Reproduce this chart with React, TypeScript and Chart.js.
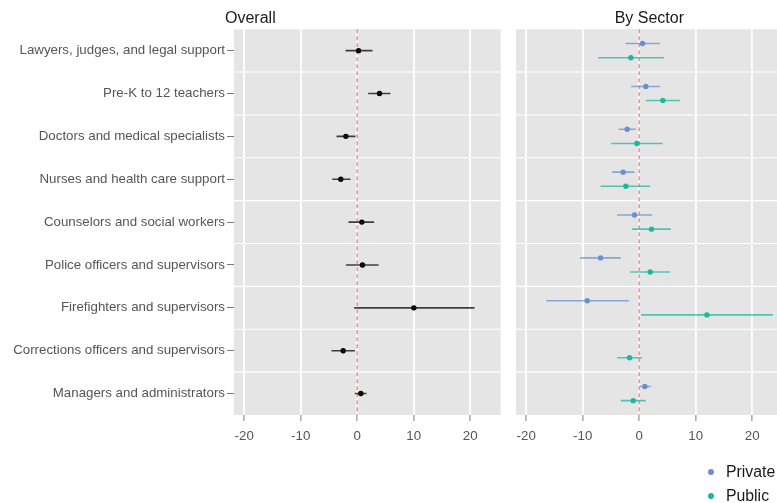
import React, { useEffect, useRef } from "react";
import { Chart, registerables } from "chart.js";

Chart.register(...registerables);

const categories = [
  "Lawyers, judges, and legal support",
  "Pre-K to 12 teachers",
  "Doctors and medical specialists",
  "Nurses and health care support",
  "Counselors and social workers",
  "Police officers and supervisors",
  "Firefighters and supervisors",
  "Corrections officers and supervisors",
  "Managers and administrators",
];

const overallEst = [0.24, 3.95, -2.0, -2.9, 0.83, 0.94, 10.03, -2.48, 0.65];
const overallLo = [-2.07, 1.95, -3.66, -4.42, -1.53, -2.0, -0.53, -4.54, -0.41];
const overallHi = [2.71, 5.9, -0.3, -1.18, 3.0, 3.78, 20.77, -0.41, 1.65];

const privateEst = [0.59, 1.18, -2.12, -2.83, -0.83, -6.84, -9.2, null, 1.0];
const privateLo = [-2.42, -1.42, -3.66, -4.78, -3.9, -10.44, -16.46, null, 0.06];
const privateHi = [3.66, 3.66, -0.59, -0.83, 2.3, -3.25, -1.83, null, 2.07];

const publicEst = [-1.47, 4.19, -0.41, -2.36, 2.18, 1.95, 11.98, -1.71, -1.06];
const publicLo = [-7.26, 1.18, -4.96, -6.84, -1.24, -1.6, 0.35, -3.9, -3.25];
const publicHi = [4.37, 7.2, 4.13, 1.95, 5.6, 5.43, 23.66, 0.47, 1.18];

const xTicks = [-20, -10, 0, 10, 20];
const seriesNames = ["Private", "Public"];
const seriesColors = ["#6b8fd2", "#1db8a0"];
const seriesBarColors = ["rgba(107,143,210,0.75)", "rgba(29,184,160,0.75)"];
const sectorOffset = [-0.165, 0.165];

const X_MIN = -21.8;
const X_MAX = 25.4;
const FONT = "'Liberation Sans', Arial, sans-serif";
const TEXT_COLOR = "#555555";

function errorBarData(est: (number | null)[], lo: (number | null)[], hi: (number | null)[], off: number) {
  const out: { x: number; y: number }[] = [];
  est.forEach((v, i) => {
    if (v === null || lo[i] === null || hi[i] === null) return;
    out.push({ x: lo[i] as number, y: i + 1 + off });
    out.push({ x: hi[i] as number, y: i + 1 + off });
    out.push({ x: NaN, y: NaN });
  });
  return out;
}

function pointData(est: (number | null)[], off: number) {
  const out: { x: number; y: number }[] = [];
  est.forEach((v, i) => {
    if (v === null) return;
    out.push({ x: v, y: i + 1 + off });
  });
  return out;
}

const panelPlugin = {
  id: "panelBg",
  beforeDraw(chart: any) {
    const { ctx, chartArea: a, scales } = chart;
    ctx.save();
    ctx.fillStyle = "#e5e5e5";
    ctx.fillRect(a.left, a.top, a.right - a.left, a.bottom - a.top);
    ctx.strokeStyle = "#ffffff";
    ctx.lineWidth = 1.1;
    for (let k = 1; k < categories.length; k++) {
      const y = scales.y.getPixelForValue(k + 0.5);
      ctx.beginPath();
      ctx.moveTo(a.left, y);
      ctx.lineTo(a.right, y);
      ctx.stroke();
    }
    ctx.restore();
  },
  beforeDatasetsDraw(chart: any) {
    const { ctx, chartArea: a, scales } = chart;
    const x0 = scales.x.getPixelForValue(0);
    ctx.save();
    ctx.strokeStyle = "rgba(232,110,115,0.9)";
    ctx.lineWidth = 1.3;
    ctx.setLineDash([4, 3]);
    ctx.beginPath();
    ctx.moveTo(x0, a.top);
    ctx.lineTo(x0, a.bottom);
    ctx.stroke();
    ctx.restore();
  },
};

function baseOptions(title: string, showY: boolean, padLeft: number): any {
  return {
    responsive: false,
    animation: false,
    maintainAspectRatio: false,
    layout: { padding: { left: padLeft, right: 4.3, top: 0, bottom: 0 } },
    plugins: {
      legend: { display: false },
      tooltip: { enabled: false },
      title: {
        display: true,
        text: title,
        color: "#1a1a1a",
        font: { family: FONT, size: 16, weight: "normal" },
        padding: { top: 9, bottom: 1 },
      },
    },
    scales: {
      x: {
        type: "linear",
        min: X_MIN,
        max: X_MAX,
        afterBuildTicks: (s: any) => {
          s.ticks = xTicks.map((v) => ({ value: v }));
        },
        afterFit: (s: any) => {
          s.height = 88;
        },
        ticks: {
          color: TEXT_COLOR,
          font: { family: FONT, size: 13.3 },
          padding: 7,
          maxRotation: 0,
          autoSkip: false,
        },
        grid: {
          color: "#ffffff",
          lineWidth: 1.8,
          tickColor: "#7a7a7a",
          tickLength: 6,
          tickWidth: 1,
        },
        border: { display: false },
      },
      y: {
        type: "linear",
        reverse: true,
        min: 0.5,
        max: categories.length + 0.5,
        display: true,
        afterBuildTicks: (s: any) => {
          s.ticks = categories.map((_, i) => ({ value: i + 1 }));
        },
        afterFit: (s: any) => {
          s.width = showY ? 234 : 0;
        },
        ticks: {
          display: showY,
          color: TEXT_COLOR,
          font: { family: FONT, size: 13.3 },
          padding: 2,
          autoSkip: false,
          callback: (v: any) => categories[Math.round(v) - 1],
        },
        grid: {
          drawOnChartArea: false,
          drawTicks: showY,
          tickColor: "#7a7a7a",
          tickLength: 7,
          tickWidth: 1,
        },
        border: { display: false },
      },
    },
  };
}

function OverallChart() {
  const ref = useRef<HTMLCanvasElement | null>(null);
  useEffect(() => {
    if (!ref.current) return;
    const chart = new Chart(ref.current, {
      type: "line",
      data: {
        datasets: [
          {
            label: "Overall CI",
            data: errorBarData(overallEst, overallLo, overallHi, 0),
            borderColor: "rgba(20,20,20,0.8)",
            borderWidth: 1.6,
            pointRadius: 0,
            spanGaps: false,
          },
          {
            label: "Overall",
            data: pointData(overallEst, 0),
            showLine: false,
            pointRadius: 2.7,
            pointBackgroundColor: "#000000",
            pointBorderWidth: 0,
            borderColor: "#000000",
          },
        ],
      } as any,
      options: baseOptions("Overall", true, 0),
      plugins: [panelPlugin],
    });
    return () => chart.destroy();
  }, []);
  return (
    <canvas
      ref={ref}
      width={505}
      height={503}
      style={{ position: "absolute", left: 0, top: 0, width: 505, height: 503 }}
    />
  );
}

function SectorChart() {
  const ref = useRef<HTMLCanvasElement | null>(null);
  useEffect(() => {
    if (!ref.current) return;
    const est = [privateEst, publicEst];
    const lo = [privateLo, publicLo];
    const hi = [privateHi, publicHi];
    const datasets: any[] = [];
    seriesNames.forEach((name, s) => {
      datasets.push({
        label: name + " CI",
        data: errorBarData(est[s], lo[s], hi[s], sectorOffset[s]),
        borderColor: seriesBarColors[s],
        borderWidth: 1.6,
        pointRadius: 0,
        spanGaps: false,
      });
    });
    seriesNames.forEach((name, s) => {
      datasets.push({
        label: name,
        data: pointData(est[s], sectorOffset[s]),
        showLine: false,
        pointRadius: 2.7,
        pointBackgroundColor: seriesColors[s],
        pointBorderWidth: 0,
        borderColor: seriesColors[s],
      });
    });
    const chart = new Chart(ref.current, {
      type: "line",
      data: { datasets } as any,
      options: baseOptions("By Sector", false, 11),
      plugins: [panelPlugin],
    });
    return () => chart.destroy();
  }, []);
  return (
    <canvas
      ref={ref}
      width={282}
      height={503}
      style={{ position: "absolute", left: 505, top: 0, width: 282, height: 503 }}
    />
  );
}

function Legend() {
  return (
    <div style={{ position: "absolute", left: 704, top: 460, fontFamily: FONT, fontSize: 15.8, color: "#1a1a1a" }}>
      {seriesNames.map((name, i) => (
        <div key={name} style={{ display: "flex", alignItems: "center", height: 24.3 }}>
          <span
            style={{
              display: "inline-block",
              width: 6,
              height: 6,
              borderRadius: 3,
              background: seriesColors[i],
              marginLeft: 4,
              marginRight: 12,
            }}
          />
          <span>{name}</span>
        </div>
      ))}
    </div>
  );
}

export default function App() {
  return (
    <div
      style={{
        position: "absolute",
        left: 0,
        top: 0,
        width: 777,
        height: 503,
        overflow: "hidden",
        background: "#ffffff",
      }}
    >
      <OverallChart />
      <SectorChart />
      <Legend />
    </div>
  );
}
